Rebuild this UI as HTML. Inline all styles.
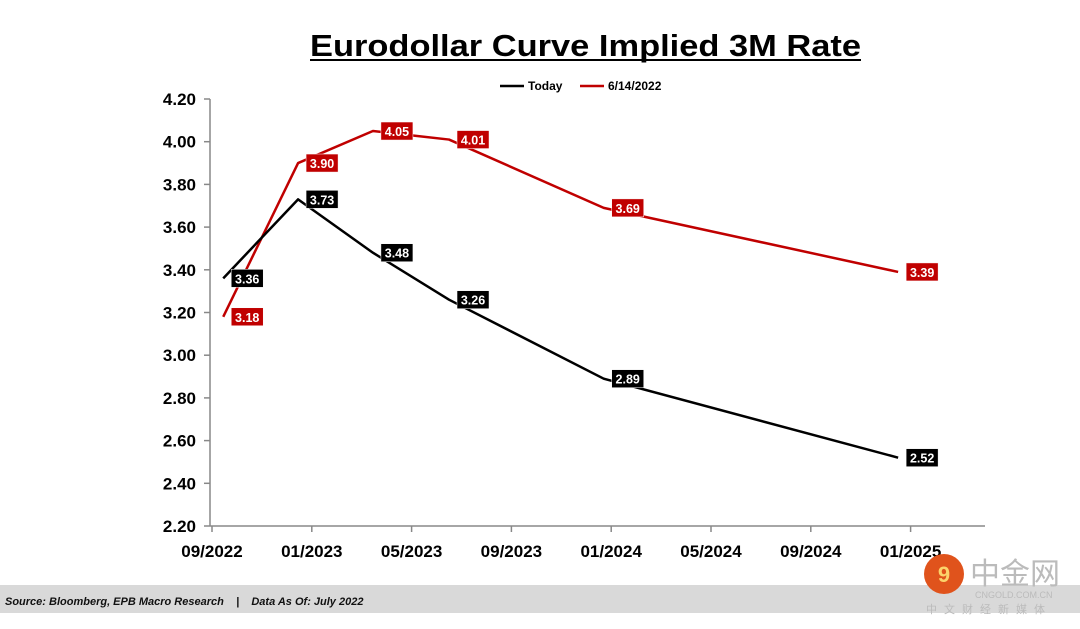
<!DOCTYPE html>
<html><head><meta charset="utf-8"><style>
body{margin:0;width:1080px;height:624px;background:#fff;overflow:hidden;font-family:"Liberation Sans","Noto Sans CJK SC",sans-serif}
</style></head><body>
<svg id="chart" width="1080" height="624" xmlns="http://www.w3.org/2000/svg">
<text x="310" y="56" textLength="551" lengthAdjust="spacingAndGlyphs" font-size="31" font-weight="bold" fill="#000">Eurodollar Curve Implied 3M Rate</text>
<line x1="310" y1="60" x2="861" y2="60" stroke="#000" stroke-width="2"/>
<g>
<g><line x1="500" y1="86" x2="524" y2="86" stroke="#000" stroke-width="2.5"/><text x="528" y="90" font-size="12" font-weight="bold">Today</text></g>
<g><line x1="580" y1="86" x2="604" y2="86" stroke="#c00000" stroke-width="2.5"/><text x="608" y="90" font-size="12" font-weight="bold">6/14/2022</text></g>
</g>
<g id="axes"></g>
<g id="series"></g>
<rect x="0" y="585" width="1080" height="28" fill="#d9d9d9"/>
<text x="5" y="605" font-size="11" font-weight="bold" font-style="italic" fill="#111">Source: Bloomberg, EPB Macro Research &#160;&#160;&#160;|&#160;&#160;&#160; Data As Of: July 2022</text>
<g>
<circle cx="944" cy="574" r="20" fill="#e0531c"/>
<text x="944" y="582" text-anchor="middle" font-size="22" font-weight="bold" fill="#fbd36b">9</text>
<text x="970" y="584" font-size="30" fill="#bbb">中金网</text>
<text x="975" y="598" font-size="9" fill="#bbb">CNGOLD.COM.CN</text>
<text x="926" y="613" font-size="11" fill="#bbb" letter-spacing="7">中文财经新媒体</text>
</g>
</svg>
<script>
const yTicks=[2.2,2.4,2.6,2.8,3.0,3.2,3.4,3.6,3.8,4.0,4.2];
const xTickLabels=["09/2022","01/2023","05/2023","09/2023","01/2024","05/2024","09/2024","01/2025"];
const pointMonths=[0.45,3.45,6.45,9.5,15.7,27.5];
const todayValues=[3.36,3.73,3.48,3.26,2.89,2.52];
const juneValues=[3.18,3.90,4.05,4.01,3.69,3.39];
const NS="http://www.w3.org/2000/svg";
const X=m=>212+m*24.95;
const Y=v=>526-(v-2.2)*213.5;
function mk(tag,attrs,parent,text){const e=document.createElementNS(NS,tag);for(const k in attrs)e.setAttribute(k,attrs[k]);if(text!==undefined)e.textContent=text;parent.appendChild(e);return e;}
const ax=document.getElementById('axes');
const ya=mk('line',{x1:210,y1:99,x2:210,y2:526,stroke:'#888','stroke-width':1.5},ax);


yTicks.forEach(v=>{
  mk('line',{x1:204,y1:Y(v),x2:210,y2:Y(v),stroke:'#888','stroke-width':1.5},ax);
  const t=mk('text',{x:196,y:Y(v)+6,'text-anchor':'end','font-size':17,'font-weight':'bold'},ax,v.toFixed(2));
  
  
});
const xa=mk('line',{x1:210,y1:526,x2:985,y2:526,stroke:'#888','stroke-width':1.5},ax);


xTickLabels.forEach((l,i)=>{
  const x=X(i*4);
  mk('line',{x1:x,y1:526,x2:x,y2:532,stroke:'#888','stroke-width':1.5},ax);
  const t=mk('text',{x:x,y:557,'text-anchor':'middle','font-size':17,'font-weight':'bold'},ax,l);
  
  
});
const sg=document.getElementById('series');
function drawSeries(vals,color,name){
  const d=vals.map((v,i)=>(i?'L':'M')+X(pointMonths[i])+','+Y(v)).join(' ');
  const p=mk('path',{d:d,fill:'none',stroke:color,'stroke-width':2.5,'stroke-linejoin':'round'},sg);
  
  
  vals.forEach((v,i)=>{
    const x=X(pointMonths[i])+8,y=Y(v);
    const g=mk('g',{},sg);
    
    
    mk('rect',{x:x,y:y-9,width:32,height:18,fill:color,stroke:'#fff','stroke-width':0.5},g);
    mk('text',{x:x+16,y:y+5,'text-anchor':'middle','font-size':12.5,'font-weight':'bold',fill:'#fff'},g,v.toFixed(2));
  });
}
drawSeries(juneValues,'#c00000','june-14-2022');
drawSeries(todayValues,'#000000','today');
</script>
</body></html>
